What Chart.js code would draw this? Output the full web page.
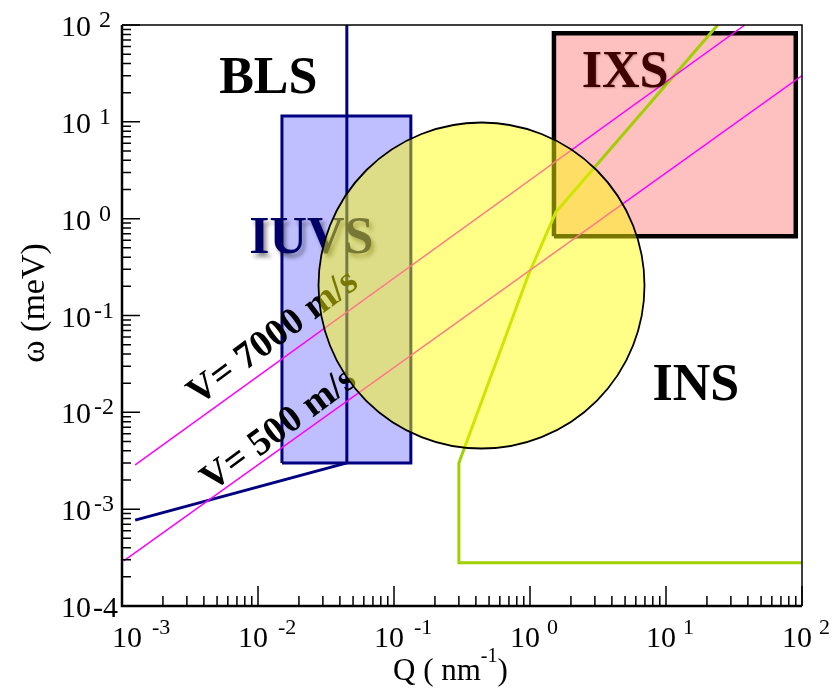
<!DOCTYPE html>
<html>
<head>
<meta charset="utf-8">
<script src="https://cdn.jsdelivr.net/npm/chart.js@4.4.0/dist/chart.umd.min.js"></script>
<style>
  html, body { margin: 0; padding: 0; background: #fff; }
  #wrap { width: 836px; height: 691px; }
</style>
</head>
<body>
<div id="wrap"><canvas id="chart" width="836" height="691"></canvas></div>
<script>
// decades on the two log axes
const qDecades = [-3, -2, -1, 0, 1, 2];
const wDecades = [-4, -3, -2, -1, 0, 1, 2];

// IUVS window (Q in nm^-1, omega in meV)
const iuvsQ = [0.015, 0.133];
const iuvsW = [0.003, 11.5];
// IXS window
const ixsQ = [1.5, 90];
const ixsW = [0.66, 82];
// INS region centre
const insQ = [0.44];
const insW = [0.204];
// BLS limit (dark blue)
const blsQ = [0.00125, 0.045, 0.045];
const blsW = [0.00077, 0.003, 100];
// INS kinematic limit (green)
const insLimQ = [100, 0.3, 0.3, 0.966, 1.55, 24];
const insLimW = [0.00028, 0.00028, 0.003, 0.256, 1.17, 100];
// sound velocity lines
const v7000Q = [0.00125, 38];
const v7000W = [0.00287, 100];
const v500Q = [0.00103, 100];
const v500W = [0.000292, 30];

// text labels, anchored in data coordinates
const regionLabels = ['BLS', 'IUVS', 'IXS', 'INS'];
const regionQ = [0.0119, 0.0247, 5.0, 16.6];
const regionW = [19.9, 0.44, 22.9, 0.0134];
const speedLabels = ['V= 7000 m/s', 'V= 500 m/s'];
const speedQ = [0.01296, 0.01432];
const speedW = [0.0586, 0.00657];

const SERIF = '"Liberation Serif", "Times New Roman", serif';

function pts(qs, ws) {
    return qs.map((q, i) => ({ x: q, y: ws[i] }));
}
function box(qs, ws) {
    return [
        { x: qs[0], y: ws[0] }, { x: qs[1], y: ws[0] },
        { x: qs[1], y: ws[1] }, { x: qs[0], y: ws[1] },
        { x: qs[0], y: ws[0] }
    ];
}

function drawLabels(chart) {
    const { ctx, scales: { x, y } } = chart;
    ctx.save();
    ctx.textAlign = 'center';
    ctx.textBaseline = 'alphabetic';
    const colors = ['#000000', '#000066', '#400000', '#000000'];
    regionLabels.forEach((t, i) => {
        ctx.save();
        ctx.font = 'bold 52px ' + SERIF;
        ctx.fillStyle = colors[i];
        if (t === 'IUVS') {
            ctx.shadowColor = 'rgba(0,0,0,0.45)';
            ctx.shadowOffsetX = 3;
            ctx.shadowOffsetY = 4;
            ctx.shadowBlur = 4;
        } else if (t === 'IXS') {
            ctx.shadowColor = 'rgba(0,0,0,0.25)';
            ctx.shadowOffsetX = 1;
            ctx.shadowOffsetY = 1;
            ctx.shadowBlur = 2;
        }
        ctx.fillText(t, x.getPixelForValue(regionQ[i]), y.getPixelForValue(regionW[i]));
        ctx.restore();
    });
    // speed labels, centred on their anchor
    ctx.font = 'bold 38px ' + SERIF;
    ctx.fillStyle = '#000';
    ctx.textBaseline = 'middle';
    speedLabels.forEach((t, i) => {
        ctx.save();
        ctx.translate(x.getPixelForValue(speedQ[i]), y.getPixelForValue(speedW[i]));
        ctx.rotate(-36.5 * Math.PI / 180);
        ctx.fillText(t, 0, 0);
        ctx.restore();
    });
    ctx.restore();
}

function drawAxes(chart) {
    const { ctx, chartArea: a, scales: { x, y } } = chart;
    ctx.save();
    ctx.strokeStyle = '#000';
    ctx.fillStyle = '#000';

    // frame
    ctx.lineWidth = 1.5;
    ctx.beginPath();
    ctx.moveTo(a.left, a.top);
    ctx.lineTo(a.right, a.top);
    ctx.lineTo(a.right, a.bottom);
    ctx.stroke();
    ctx.lineWidth = 2.5;
    ctx.beginPath();
    ctx.moveTo(a.left, a.top);
    ctx.lineTo(a.left, a.bottom);
    ctx.lineTo(a.right, a.bottom);
    ctx.stroke();

    // inward ticks
    ctx.lineWidth = 1.5;
    ctx.beginPath();
    qDecades.forEach((k, i) => {
        const px = x.getPixelForValue(Math.pow(10, k));
        ctx.moveTo(px, a.bottom);
        ctx.lineTo(px, a.bottom - 20);
        if (i < qDecades.length - 1) {
            for (let m = 2; m <= 9; m++) {
                const p = x.getPixelForValue(m * Math.pow(10, k));
                ctx.moveTo(p, a.bottom);
                ctx.lineTo(p, a.bottom - 10);
            }
        }
    });
    wDecades.forEach((k, i) => {
        const py = y.getPixelForValue(Math.pow(10, k));
        ctx.moveTo(a.left, py);
        ctx.lineTo(a.left + 18, py);
        if (i < wDecades.length - 1) {
            for (let m = 2; m <= 9; m++) {
                const p = y.getPixelForValue(m * Math.pow(10, k));
                ctx.moveTo(a.left, p);
                ctx.lineTo(a.left + 9, p);
            }
        }
    });
    ctx.stroke();

    // y tick labels
    ctx.textBaseline = 'alphabetic';
    wDecades.forEach((k, i) => {
        const py = y.getPixelForValue(Math.pow(10, k));
        ctx.font = '30px ' + SERIF;
        ctx.textAlign = 'right';
        ctx.fillText('10', a.left - 31, py + 11);
        ctx.textAlign = 'left';
        if (i === 0) {
            ctx.fillText('-' + Math.abs(k), a.left - 29, py + 11);
        } else {
            ctx.font = '24px ' + SERIF;
            ctx.fillText(k < 0 ? '-' + (-k) : String(k), a.left - (k < 0 ? 28 : 23), py + 2);
        }
    });

    // x tick labels
    qDecades.forEach((k, i) => {
        const px = x.getPixelForValue(Math.pow(10, k));
        const left = px - (i === 0 ? 10 : 20);
        ctx.font = '30px ' + SERIF;
        ctx.textAlign = 'left';
        ctx.fillText('10', left, a.bottom + 41);
        const w = ctx.measureText('10').width;
        ctx.font = '22px ' + SERIF;
        ctx.fillText(k < 0 ? '-' + (-k) : String(k), left + w + (k < 0 ? 10 : 7), a.bottom + 28);
    });

    // axis titles
    ctx.font = '31px ' + SERIF;
    ctx.textAlign = 'left';
    const tx = 393, tb = a.bottom + 74;
    ctx.fillText('Q ( nm', tx, tb);
    let w1 = ctx.measureText('Q ( nm').width;
    ctx.font = '20px ' + SERIF;
    ctx.fillText('-1', tx + w1, tb - 18);
    const w2 = ctx.measureText('-1').width;
    ctx.font = '31px ' + SERIF;
    ctx.fillText(')', tx + w1 + w2, tb);

    ctx.save();
    ctx.font = '34px ' + SERIF;
    ctx.translate(44, 303);
    ctx.rotate(-Math.PI / 2);
    ctx.textAlign = 'center';
    ctx.fillText('\u03c9 (meV)', 0, 0);
    ctx.restore();

    ctx.restore();
}

const framePlugin = {
    id: 'frame',
    beforeDatasetDraw(chart, args) {
        if (args.index === 0) drawLabels(chart);
    },
    afterDatasetsDraw(chart) {
        drawAxes(chart);
    }
};

new Chart(document.getElementById('chart'), {
    type: 'scatter',
    data: {
        datasets: [
            {
                type: 'bubble',
                data: pts(insQ, insW),
                radius: 163,
                backgroundColor: 'rgba(255,255,0,0.47)',
                borderColor: '#000',
                borderWidth: 1.8,
                order: 0
            },
            {
                type: 'line',
                data: pts(v7000Q, v7000W),
                borderColor: '#ff00ff',
                borderWidth: 1.5,
                pointRadius: 0,
                fill: false,
                order: 1
            },
            {
                type: 'line',
                data: pts(v500Q, v500W),
                borderColor: '#ff00ff',
                borderWidth: 1.5,
                pointRadius: 0,
                fill: false,
                order: 1
            },
            {
                type: 'line',
                data: pts(blsQ, blsW),
                borderColor: '#000080',
                borderWidth: 3,
                pointRadius: 0,
                fill: false,
                order: 1
            },
            {
                type: 'line',
                data: pts(insLimQ, insLimW),
                borderColor: '#a0d000',
                borderWidth: 3,
                pointRadius: 0,
                fill: false,
                order: 1
            },
            {
                type: 'line',
                data: box(iuvsQ, iuvsW),
                borderColor: '#000080',
                borderWidth: 3,
                backgroundColor: '#bfbfff',
                pointRadius: 0,
                fill: 'shape',
                order: 2
            },
            {
                type: 'line',
                data: box(ixsQ, ixsW),
                borderColor: '#000',
                borderWidth: 4.5,
                backgroundColor: '#ffc0c0',
                pointRadius: 0,
                fill: 'shape',
                order: 2
            }
        ]
    },
    options: {
        responsive: false,
        devicePixelRatio: 1,
        animation: false,
        events: [],
        layout: { autoPadding: false, padding: { left: 122, top: 25, right: 34, bottom: 85 } },
        plugins: {
            legend: { display: false },
            tooltip: { enabled: false }
        },
        scales: {
            x: { type: 'logarithmic', min: 0.001, max: 100, display: false },
            y: { type: 'logarithmic', min: 0.0001, max: 100, display: false }
        }
    },
    plugins: [framePlugin]
});
</script>
</body>
</html>
